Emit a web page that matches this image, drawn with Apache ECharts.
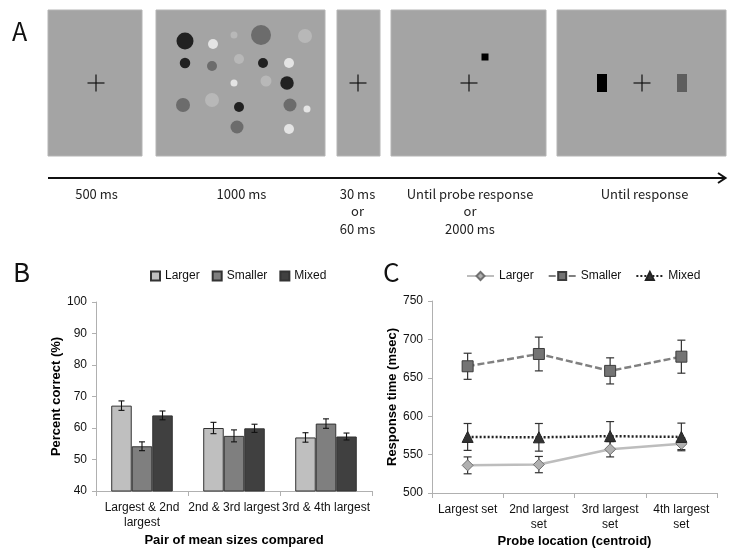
<!DOCTYPE html>
<html><head><meta charset="utf-8">
<script src="https://cdn.jsdelivr.net/npm/echarts@6/dist/echarts.min.js"></script>
<style>html,body{margin:0;padding:0;background:#fff}#c{width:747px;height:557px}</style>
</head><body><div id="c"></div>
<script>
// ---- Panel B data ----
const bCategories = ['Largest & 2nd\nlargest', '2nd & 3rd largest', '3rd & 4th largest'];
const bSeriesNames = ['Larger', 'Smaller', 'Mixed'];
const bLarger = [67.1, 60.0, 57.0];
const bSmaller = [54.2, 57.5, 61.4];
const bMixed = [64.0, 59.9, 57.3];
const bLargerErr = [1.5, 1.8, 1.5];
const bSmallerErr = [1.4, 1.9, 1.5];
const bMixedErr = [1.4, 1.3, 1.1];
const bYTicks = [40, 50, 60, 70, 80, 90, 100];

// ---- Panel C data ----
const cCategories = ['Largest set', '2nd largest\nset', '3rd largest\nset', '4th largest\nset'];
const cLarger = [536, 537, 557, 564];
const cSmaller = [665, 681, 659, 677.5];
const cMixed = [573, 572.5, 574, 573];
const cLargerErr = [11, 10.6, 10, 7.5];
const cSmallerErr = [17, 22, 17, 21.5];
const cMixedErr = [17.5, 18, 19, 18];
const cYTicks = [500, 550, 600, 650, 700, 750];

// ---- Panel A stimulus dots (frame units) ----
const dotX = [29, 57, 78, 105, 149, 29, 56, 83, 107, 133, 78, 110, 131, 27, 56, 83, 134, 151, 81, 133];
const dotY = [31, 34, 25, 25, 26, 53, 56, 49, 53, 53, 73, 71, 73, 95, 90, 97, 95, 99, 117, 119];
const dotSize = [17, 10, 7, 20, 14, 10.5, 10, 10, 10, 10, 7, 11, 13.5, 14, 14, 10, 13, 7, 13, 10];
const dotShade = [0, 3, 2, 1, 2, 0, 1, 2, 0, 3, 3, 2, 0, 1, 2, 0, 1, 3, 1, 3];
const shadeColors = ['#000000', '#5e5e5e', '#bdbdbd', '#f4f4f4'];

// ---- Timeline labels ----
const timeLabels = ['500 ms', '1000 ms', '30 ms\nor\n60 ms', 'Until probe response\nor\n2000 ms', 'Until response'];

const SANS = 'Liberation Sans, Arial, sans-serif';
const KFONT = '"Noto Sans CJK KR", "Noto Sans", sans-serif';

const chart = echarts.init(document.getElementById('c'), null, {renderer: 'canvas'});

// frames / layout for panel A (schematic)
const frames = [[48, 10, 94, 146], [156, 10, 169, 146], [337, 10, 43, 146], [391, 10, 155, 146], [557, 10, 169, 146]];
const crosses = [[96, 83], [358, 83], [469, 83], [642, 83]];
const labelX = [96.5, 241.5, 357.5, 470, 644.5];

const graphic = [];
frames.forEach(f => graphic.push({type: 'rect', shape: {x: f[0], y: f[1], width: f[2], height: f[3]}, style: {fill: '#a4a4a4', stroke: '#b4b4b4', lineWidth: 1}, z: 0}));
crosses.forEach(c => {
  graphic.push({type: 'line', shape: {x1: c[0] - 8.5, y1: c[1], x2: c[0] + 8.5, y2: c[1]}, style: {stroke: '#111', lineWidth: 1.2}, z: 1});
  graphic.push({type: 'line', shape: {x1: c[0], y1: c[1] - 8.5, x2: c[0], y2: c[1] + 8.5}, style: {stroke: '#111', lineWidth: 1.2}, z: 1});
});
graphic.push({type: 'rect', shape: {x: 481.5, y: 53.5, width: 7, height: 7}, style: {fill: '#000'}, z: 1});
graphic.push({type: 'rect', shape: {x: 597, y: 74, width: 10, height: 18}, style: {fill: '#000'}, z: 1});
graphic.push({type: 'rect', shape: {x: 677, y: 74, width: 10, height: 18}, style: {fill: '#5e5e5e'}, z: 1});
// timeline arrow
graphic.push({type: 'line', shape: {x1: 48, y1: 178, x2: 724, y2: 178}, style: {stroke: '#111', lineWidth: 2}, z: 1});
graphic.push({type: 'polyline', shape: {points: [[718, 173], [725.5, 178], [718, 183]]}, style: {stroke: '#111', lineWidth: 2, fill: null}, z: 1});
timeLabels.forEach((t, i) => graphic.push({type: 'text', x: labelX[i], y: 185, style: {text: t, font: '13px ' + KFONT, fill: '#222', align: 'center', verticalAlign: 'top', lineHeight: 17.5}, z: 1}));
// panel letters
graphic.push({type: 'text', x: 12, y: 31, style: {text: 'A', font: '25px ' + KFONT, fill: '#111', align: 'left', verticalAlign: 'middle'}});
graphic.push({type: 'text', x: 13, y: 272, style: {text: 'B', font: '26px ' + KFONT, fill: '#111', align: 'left', verticalAlign: 'middle'}});
graphic.push({type: 'text', x: 383, y: 272, style: {text: 'C', font: '26px ' + KFONT, fill: '#111', align: 'left', verticalAlign: 'middle'}});

const bColors = ['#bfbfbf', '#7f7f7f', '#404040'];
const bVals = [bLarger, bSmaller, bMixed];
const bErrs = [bLargerErr, bSmallerErr, bMixedErr];
const BAR_FRAC = 0.223;

const bErrData = [];
for (let i = 0; i < bCategories.length; i++) for (let s = 0; s < 3; s++) bErrData.push([i, bVals[s][i] - bErrs[s][i], bVals[s][i] + bErrs[s][i], s]);

const cVals = [cLarger, cSmaller, cMixed];
const cErrs = [cLargerErr, cSmallerErr, cMixedErr];
const cErrData = [];
for (let i = 0; i < cCategories.length; i++) for (let s = 0; s < 3; s++) cErrData.push([i, cVals[s][i] - cErrs[s][i], cVals[s][i] + cErrs[s][i], s]);

function errRender(offsetFrac, cap, color, width) {
  return function (params, api) {
    const band = api.size([1, 0])[0];
    const s = api.value(3);
    const off = offsetFrac ? (s - 1) * band * offsetFrac : 0;
    const p1 = api.coord([api.value(0), api.value(1)]);
    const p2 = api.coord([api.value(0), api.value(2)]);
    const x = p1[0] + off;
    const st = {stroke: color, lineWidth: width};
    return {type: 'group', children: [
      {type: 'line', shape: {x1: x, y1: p1[1], x2: x, y2: p2[1]}, style: st},
      {type: 'line', shape: {x1: x - cap, y1: p1[1], x2: x + cap, y2: p1[1]}, style: st},
      {type: 'line', shape: {x1: x - cap, y1: p2[1], x2: x + cap, y2: p2[1]}, style: st}
    ]};
  };
}

const axisLineStyle = {color: '#b0b0b0', width: 1};
const labelStyle = {color: '#111', fontSize: 12, fontFamily: SANS};
const nameStyle = {color: '#000', fontSize: 13, fontWeight: 'bold', fontFamily: SANS};

const option = {
  animation: false,
  backgroundColor: '#fff',
  graphic: graphic,
  grid: [
    {left: 156, top: 10, width: 169, height: 146},
    {left: 96, top: 302, width: 276, height: 189},
    {left: 432, top: 301, width: 285, height: 192}
  ],
  legend: [
    {data: bSeriesNames, left: 150, top: 270, padding: 0, icon: 'rect', itemWidth: 9, itemHeight: 9, itemGap: 12,
     textStyle: {color: '#111', fontSize: 12, fontFamily: SANS}, selectedMode: false},
    {data: bSeriesNames.map(n => 'C-' + n), formatter: n => n.slice(2), left: 466, top: 270, padding: 0,
     itemWidth: 27, itemHeight: 10, itemGap: 14, textStyle: {color: '#111', fontSize: 12, fontFamily: SANS}, selectedMode: false}
  ],
  xAxis: [
    {gridIndex: 0, type: 'value', min: 0, max: 169, show: false},
    {gridIndex: 1, type: 'category', data: bCategories,
     axisLine: {show: true, lineStyle: axisLineStyle}, axisTick: {show: true, length: 5, lineStyle: axisLineStyle},
     axisLabel: Object.assign({interval: 0, margin: 9, lineHeight: 15}, labelStyle),
     name: 'Pair of mean sizes compared', nameLocation: 'middle', nameGap: 43, nameTextStyle: nameStyle},
    {gridIndex: 2, type: 'category', data: cCategories,
     axisLine: {show: true, lineStyle: axisLineStyle}, axisTick: {show: true, length: 5, lineStyle: axisLineStyle},
     axisLabel: Object.assign({interval: 0, margin: 9, lineHeight: 15}, labelStyle),
     name: 'Probe location (centroid)', nameLocation: 'middle', nameGap: 42, nameTextStyle: nameStyle}
  ],
  yAxis: [
    {gridIndex: 0, type: 'value', min: 0, max: 146, inverse: true, show: false},
    {gridIndex: 1, type: 'value', min: bYTicks[0], max: bYTicks[bYTicks.length - 1], interval: 10,
     axisLine: {show: true, lineStyle: axisLineStyle}, axisTick: {show: true, length: 4, lineStyle: axisLineStyle},
     splitLine: {show: false}, axisLabel: Object.assign({margin: 9}, labelStyle),
     name: 'Percent correct (%)', nameLocation: 'middle', nameGap: 32, nameTextStyle: nameStyle},
    {gridIndex: 2, type: 'value', min: cYTicks[0], max: cYTicks[cYTicks.length - 1], interval: 50,
     axisLine: {show: true, lineStyle: axisLineStyle}, axisTick: {show: true, length: 4, lineStyle: axisLineStyle},
     splitLine: {show: false}, axisLabel: Object.assign({margin: 9}, labelStyle),
     name: 'Response time (msec)', nameLocation: 'middle', nameGap: 32, nameTextStyle: nameStyle}
  ],
  series: [
    {type: 'scatter', xAxisIndex: 0, yAxisIndex: 0, symbol: 'circle',
     data: dotX.map((x, i) => ({value: [x, dotY[i]], symbolSize: dotSize[i], itemStyle: {color: shadeColors[dotShade[i]]}})),
     silent: true, z: 3},
    ...bSeriesNames.map((n, s) => ({
      type: 'bar', name: n, xAxisIndex: 1, yAxisIndex: 1, data: bVals[s], barWidth: (BAR_FRAC * 100) + '%', barGap: '0%',
      itemStyle: {color: bColors[s], borderColor: '#333', borderWidth: 1}, z: 2
    })),
    {type: 'custom', xAxisIndex: 1, yAxisIndex: 1, data: bErrData, renderItem: errRender(BAR_FRAC, 3, '#111', 1.1), z: 5, silent: true},
    {type: 'custom', xAxisIndex: 2, yAxisIndex: 2, data: cErrData, renderItem: errRender(0, 4, '#333', 1.2), z: 1, silent: true},
    {type: 'line', name: 'C-Larger', xAxisIndex: 2, yAxisIndex: 2, data: cLarger, symbol: 'diamond', symbolSize: 11,
     lineStyle: {color: '#bdbdbd', width: 2.5, type: 'solid'}, itemStyle: {color: '#b0b0b0', borderColor: '#707070', borderWidth: 1}, z: 3},
    {type: 'line', name: 'C-Smaller', xAxisIndex: 2, yAxisIndex: 2, data: cSmaller, symbol: 'rect', symbolSize: 11,
     lineStyle: {color: '#808080', width: 2.5, type: [7, 3]}, itemStyle: {color: '#747474', borderColor: '#3c3c3c', borderWidth: 1}, z: 3},
    {type: 'line', name: 'C-Mixed', xAxisIndex: 2, yAxisIndex: 2, data: cMixed, symbol: 'triangle', symbolSize: 11,
     lineStyle: {color: '#222', width: 2.5, type: [2, 2]}, itemStyle: {color: '#333', borderColor: '#222', borderWidth: 1}, z: 3}
  ]
};
chart.setOption(option);
</script>
</body></html>
